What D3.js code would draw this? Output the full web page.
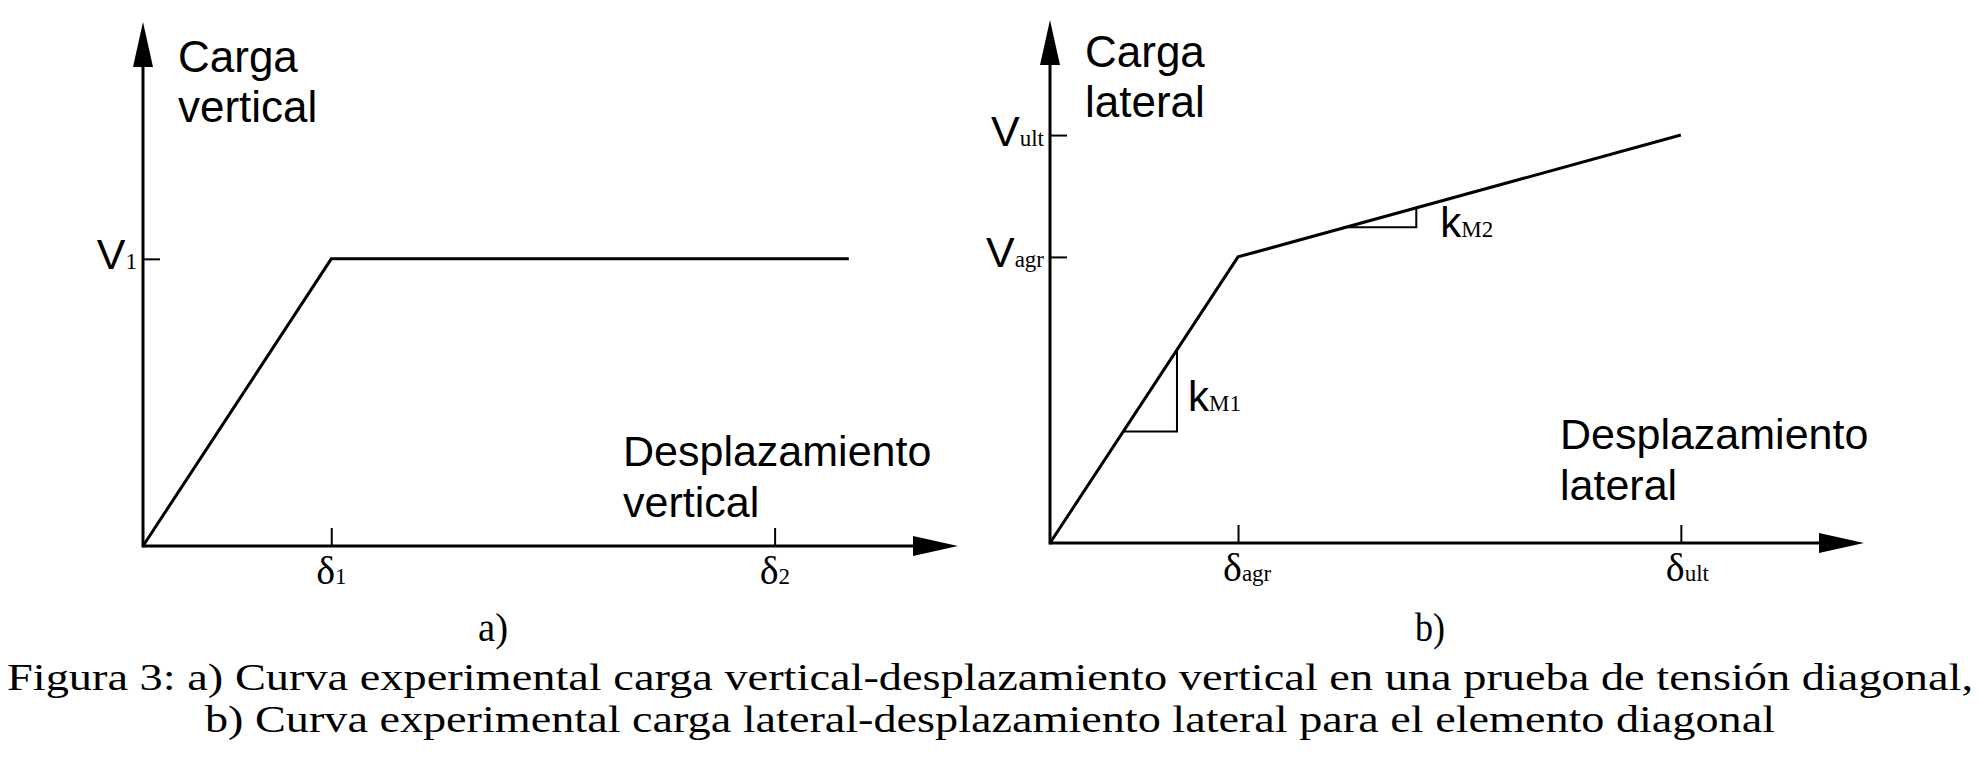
<!DOCTYPE html>
<html>
<head>
<meta charset="utf-8">
<script src="https://cdn.jsdelivr.net/npm/d3@7/dist/d3.min.js"></script>
<style>
  html, body { margin: 0; padding: 0; background: #fff; }
  svg { display: block; }
</style>
</head>
<body>
<svg id="chart" width="1981" height="774"></svg>
<script>
// ---------- DATA (abstract units, axes run 0..100) ----------
// Panel a) carga vertical - desplazamiento vertical
const curveA_x = [0, 23.1, 86.6];
const curveA_y = [0, 54.8, 54.8];
const ticksA_x = [23.1, 77.5];
const ticksA_xLabels = [["δ", "1"], ["δ", "2"]];
const ticksA_y = [54.8];
const ticksA_yLabels = [["V", "1"]];
const titleA_y = ["Carga", "vertical"];
const titleA_x = ["Desplazamiento", "vertical"];

// Panel b) carga lateral - desplazamiento lateral
const curveB_x = [0, 23.1, 77.5];
const curveB_y = [0, 54.7, 78.0];
const ticksB_x = [23.1, 77.5];
const ticksB_xLabels = [["δ", "agr"], ["δ", "ult"]];
const ticksB_y = [54.7, 78.0];
const ticksB_yLabels = [["V", "agr"], ["V", "ult"]];
const titleB_y = ["Carga", "lateral"];
const titleB_x = ["Desplazamiento", "lateral"];

// slope triangles on panel b) : [x start, x end] along segment, label
const slopeSegments = [[9.0, 15.6], [36.4, 45.0]];
const slopeLabels = [["k", "M1"], ["k", "M2"]];

const panelLetters = ["a)", "b)"];
const captionLines = [
  "Figura 3: a) Curva experimental carga vertical-desplazamiento vertical en una prueba de tensión diagonal,",
  "b) Curva experimental carga lateral-desplazamiento lateral para el elemento diagonal"
];

// ---------- DRAWING ----------
const svg = d3.select("#chart");
const SANS = "'Liberation Sans', Arial, sans-serif";
const SERIF = "'Liberation Serif', 'Times New Roman', serif";

function drawPanel(cfg) {
  const g = svg.append("g");
  const x = d3.scaleLinear().domain([0, 100]).range(cfg.xr);
  const y = d3.scaleLinear().domain([0, 100]).range(cfg.yr);
  const x0 = x(0), y0 = y(0);
  const arrowLen = 45, arrowHalf = 10;

  // axis lines
  g.append("line").attr("x1", x0).attr("y1", y0).attr("x2", x(100) - arrowLen + 2).attr("y2", y0)
    .attr("stroke", "#000").attr("stroke-width", 3);
  g.append("line").attr("x1", x0).attr("y1", y0 + 1.5).attr("x2", x0).attr("y2", y(100) + arrowLen - 2)
    .attr("stroke", "#000").attr("stroke-width", 3);
  // arrow heads
  g.append("path").attr("d", `M${x(100)},${y0} L${x(100) - arrowLen},${y0 - arrowHalf} L${x(100) - arrowLen},${y0 + arrowHalf} Z`)
    .attr("fill", "#000");
  g.append("path").attr("d", `M${x0},${y(100)} L${x0 - arrowHalf},${y(100) + arrowLen} L${x0 + arrowHalf},${y(100) + arrowLen} Z`)
    .attr("fill", "#000");

  // ticks via d3 axes (inside ticks, no domain, no default labels)
  const ax = d3.axisBottom(x).tickValues(cfg.tx).tickSizeInner(-18).tickSizeOuter(0).tickFormat("");
  const gx = g.append("g").attr("transform", `translate(0,${y0})`).call(ax);
  gx.select(".domain").remove();
  gx.selectAll(".tick line").attr("stroke", "#000").attr("stroke-width", 2);

  const ay = d3.axisLeft(y).tickValues(cfg.ty).tickSizeInner(-17).tickSizeOuter(0).tickFormat("");
  const gy = g.append("g").attr("transform", `translate(${x0},0)`).call(ay);
  gy.select(".domain").remove();
  gy.selectAll(".tick line").attr("stroke", "#000").attr("stroke-width", 2);

  // x tick labels: δ + subscript
  cfg.tx.forEach((v, i) => {
    const t = g.append("text").attr("x", x(v) - 15).attr("y", y0 + 38)
      .attr("font-family", SERIF).attr("fill", "#000");
    t.append("tspan").attr("font-size", 40).text(cfg.txl[i][0]);
    t.append("tspan").attr("font-size", 23).text(cfg.txl[i][1]);
  });
  // y tick labels: V + subscript (right-aligned)
  cfg.ty.forEach((v, i) => {
    const t = g.append("text").attr("x", x0 - 6).attr("y", y(v) + 10.5)
      .attr("text-anchor", "end").attr("fill", "#000");
    t.append("tspan").attr("font-family", SANS).attr("font-size", 43).text(cfg.tyl[i][0]);
    t.append("tspan").attr("font-family", SERIF).attr("font-size", 23).text(cfg.tyl[i][1]);
  });

  // curve
  const line = d3.line().x(d => x(d[0])).y(d => y(d[1]));
  const pts = cfg.cx.map((v, i) => [v, cfg.cy[i]]);
  g.append("path").attr("d", line(pts)).attr("fill", "none").attr("stroke", "#000")
    .attr("stroke-width", 3).attr("stroke-linejoin", "miter");

  // axis titles
  cfg.yt.forEach((s, i) => {
    g.append("text").attr("x", cfg.ytPos[0]).attr("y", cfg.ytPos[1] + i * 50)
      .attr("font-family", SANS).attr("font-size", 44).attr("fill", "#000").text(s);
  });
  cfg.xt.forEach((s, i) => {
    g.append("text").attr("x", cfg.xtPos[0]).attr("y", cfg.xtPos[1] + i * 51)
      .attr("font-family", SANS).attr("font-size", 43).attr("fill", "#000").text(s);
  });

  // slope triangles
  if (cfg.slopes) {
    const segFn = xv => {
      for (let k = 1; k < pts.length; k++) {
        if (xv <= pts[k][0]) {
          const t = (xv - pts[k - 1][0]) / (pts[k][0] - pts[k - 1][0]);
          return pts[k - 1][1] + t * (pts[k][1] - pts[k - 1][1]);
        }
      }
      return pts[pts.length - 1][1];
    };
    cfg.slopes.forEach((s, i) => {
      const xa = s[0], xb = s[1];
      const ya = segFn(xa), yb = segFn(xb);
      g.append("path")
        .attr("d", `M${x(xa)},${y(ya)} L${x(xb)},${y(ya)} L${x(xb)},${y(yb)}`)
        .attr("fill", "none").attr("stroke", "#000").attr("stroke-width", 2);
      const t = g.append("text").attr("x", x(xb) + cfg.slopeLabelOff[i][0]).attr("y", y(ya) + cfg.slopeLabelOff[i][1])
        .attr("fill", "#000");
      t.append("tspan").attr("font-family", SANS).attr("font-size", 42).text(cfg.sl[i][0]);
      t.append("tspan").attr("font-family", SERIF).attr("font-size", 23).text(cfg.sl[i][1]);
    });
  }

  // panel letter
  g.append("text").attr("x", cfg.letterX).attr("y", 641).attr("text-anchor", "middle")
    .attr("font-family", SERIF).attr("font-size", 40).attr("fill", "#000")
    .attr("textLength", 30).attr("lengthAdjust", "spacingAndGlyphs").text(cfg.letter);
}

drawPanel({
  xr: [143, 958], yr: [546, 22],
  cx: curveA_x, cy: curveA_y,
  tx: ticksA_x, txl: ticksA_xLabels,
  ty: ticksA_y, tyl: ticksA_yLabels,
  yt: titleA_y, ytPos: [178, 72],
  xt: titleA_x, xtPos: [623, 466],
  letter: panelLetters[0], letterX: 493
});

drawPanel({
  xr: [1050, 1864], yr: [543, 20],
  cx: curveB_x, cy: curveB_y,
  tx: ticksB_x, txl: ticksB_xLabels,
  ty: ticksB_y, tyl: ticksB_yLabels,
  yt: titleB_y, ytPos: [1085, 67],
  xt: titleB_x, xtPos: [1560, 449],
  slopes: slopeSegments, sl: slopeLabels,
  slopeLabelOff: [[11, -21], [24, 10]],
  letter: panelLetters[1], letterX: 1430
});

// caption (stretched to the measured widths of the reference lines)
const captionWidths = [1966, 1570];
captionLines.forEach((s, i) => {
  svg.append("text").attr("x", 990).attr("y", 690 + i * 42).attr("text-anchor", "middle")
    .attr("font-family", SERIF).attr("font-size", 38).attr("fill", "#000")
    .attr("textLength", captionWidths[i]).attr("lengthAdjust", "spacingAndGlyphs")
    .text(s);
});
</script>
</body>
</html>
